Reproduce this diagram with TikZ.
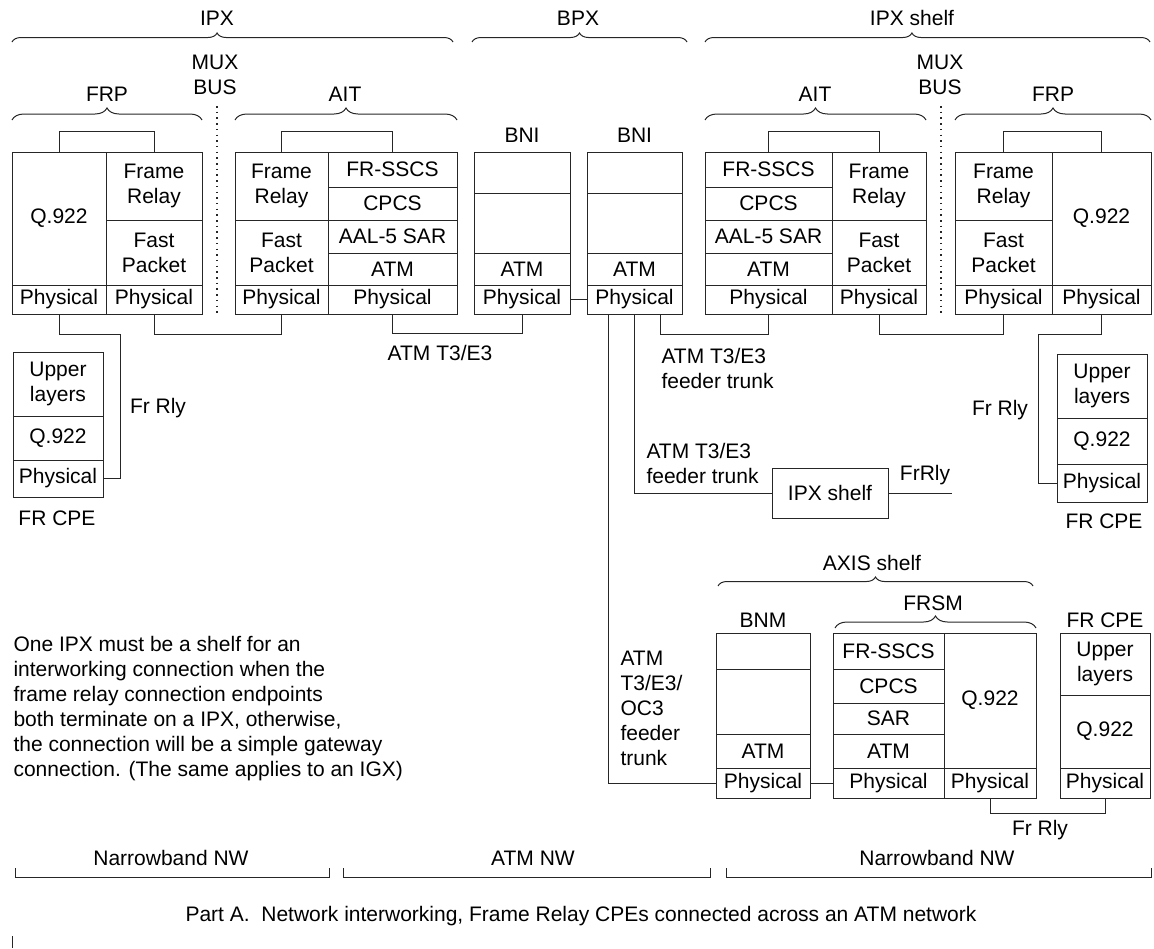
\documentclass[tikz,border=0pt]{standalone}
\usepackage{fontspec}
\setmainfont{Liberation Sans}
\usetikzlibrary{positioning,decorations.pathreplacing}

\begin{document}
\begin{tikzpicture}[
  x=1pt, y=-1pt,
  font=\fontsize{21}{25}\selectfont,
  line width=1pt, draw=black!85,
  cell/.style = {
    draw, rectangle, anchor=north west,
    inner sep=0pt, outer sep=0pt,
    align=center
  },
  lbl/.style = {inner sep=0pt, align=center},
  note/.style = {inner sep=0pt, align=left, anchor=west},
  bus/.style = {dash pattern=on 1.5pt off 4.2pt, line width=1.2pt},
  bigbrace/.style = {decorate, decoration={brace, amplitude=9pt, aspect=#1}},
  bigbrace/.default = 0.5,
  subbrace/.style = {decorate, decoration={brace, amplitude=12pt}}
]
\useasboundingbox (0,0) rectangle (1154,948);

% top braces
\draw[bigbrace=0.465] (12,42) -- (453,42);
\draw[bigbrace] (472,42) -- (687,42);
\draw[bigbrace=0.465] (705,42) -- (1150,42);
\node[lbl] (ipxlbl) at (217,18) {IPX};
\node[lbl] (bpxlbl) at (578,18) {BPX};
\node[lbl] (shelflbl) at (912,18) {IPX shelf};

% card braces
\draw[subbrace] (12,120) -- (202,120);
\draw[subbrace] (235,120) -- (457,120);
\draw[subbrace] (705,120) -- (926,120);
\draw[subbrace] (955,120) -- (1151,120);
\node[lbl] (frpLlbl) at (107,94) {FRP};
\node[lbl] (aitLlbl) at (345,94) {AIT};
\node[lbl] (aitRlbl) at (815,94) {AIT};
\node[lbl] (frpRlbl) at (1053,94) {FRP};

% mux bus
\node[lbl] (busL) at (215,75) {MUX\\BUS};
\node[lbl] (busR) at (940,75) {MUX\\BUS};
\draw[bus] (217,106) -- (217,315);
\draw[bus] (941,106) -- (941,315);

% IPX: FRP
\node[cell, minimum width=94, minimum height=133] (frpLQ) at (12,152) {Q.922};
\node[cell, minimum width=96, minimum height=68] (frpLFR) at (106,152) {Frame\\Relay};
\node[cell, minimum width=96, minimum height=65] (frpLFP) at (106,220) {Fast\\Packet};
\node[cell, minimum width=94, minimum height=29] (frpLPhA) at (12,285) {Physical};
\node[cell, minimum width=96, minimum height=29] (frpLPhB) at (106,285) {Physical};

% IPX: AIT
\node[cell, minimum width=93, minimum height=68] (aitLFR) at (235,152) {Frame\\Relay};
\node[cell, minimum width=93, minimum height=65] (aitLFP) at (235,220) {Fast\\Packet};
\node[cell, minimum width=129, minimum height=35] (aitLSSCS) at (328,152) {FR-SSCS};
\node[cell, minimum width=129, minimum height=33] (aitLCPCS) at (328,187) {CPCS};
\node[cell, minimum width=129, minimum height=33] (aitLSAR) at (328,220) {AAL-5 SAR};
\node[cell, minimum width=129, minimum height=32] (aitLATM) at (328,253) {ATM};
\node[cell, minimum width=93, minimum height=29] (aitLPhA) at (235,285) {Physical};
\node[cell, minimum width=129, minimum height=29] (aitLPhB) at (328,285) {Physical};

% BPX: BNI cards
\node[cell, minimum width=96, minimum height=41] (bniAtop) at (474,152) {};
\node[cell, minimum width=96, minimum height=60] (bniAmid) at (474,193) {};
\node[cell, minimum width=96, minimum height=32] (bniAATM) at (474,253) {ATM};
\node[cell, minimum width=96, minimum height=29] (bniAPh) at (474,285) {Physical};
\node[cell, minimum width=95, minimum height=41] (bniBtop) at (587,152) {};
\node[cell, minimum width=95, minimum height=60] (bniBmid) at (587,193) {};
\node[cell, minimum width=95, minimum height=32] (bniBATM) at (587,253) {ATM};
\node[cell, minimum width=95, minimum height=29] (bniBPh) at (587,285) {Physical};
\node[lbl, above=9pt of bniAtop] (bniAlbl) {BNI};
\node[lbl, above=9pt of bniBtop] (bniBlbl) {BNI};

% IPX shelf: AIT
\node[cell, minimum width=127, minimum height=35] (aitRSSCS) at (705,152) {FR-SSCS};
\node[cell, minimum width=127, minimum height=33] (aitRCPCS) at (705,187) {CPCS};
\node[cell, minimum width=127, minimum height=33] (aitRSAR) at (705,220) {AAL-5 SAR};
\node[cell, minimum width=127, minimum height=32] (aitRATM) at (705,253) {ATM};
\node[cell, minimum width=127, minimum height=29] (aitRPhA) at (705,285) {Physical};
\node[cell, minimum width=94, minimum height=68] (aitRFR) at (832,152) {Frame\\Relay};
\node[cell, minimum width=94, minimum height=65] (aitRFP) at (832,220) {Fast\\Packet};
\node[cell, minimum width=94, minimum height=29] (aitRPhB) at (832,285) {Physical};

% IPX shelf: FRP
\node[cell, minimum width=97, minimum height=68] (frpRFR) at (955,152) {Frame\\Relay};
\node[cell, minimum width=97, minimum height=65] (frpRFP) at (955,220) {Fast\\Packet};
\node[cell, minimum width=97, minimum height=29] (frpRPhA) at (955,285) {Physical};
\node[cell, minimum width=99, minimum height=133] (frpRQ) at (1052,152) {Q.922};
\node[cell, minimum width=99, minimum height=29] (frpRPhB) at (1052,285) {Physical};

% card internals
\draw (frpLQ.north) -- ++(0,-21) -| (frpLFR.north);
\draw (aitLFR.north) -- ++(0,-21) -| (aitLSSCS.north);
\draw (aitRSSCS.north) -- ++(0,-21) -| (aitRFR.north);
\draw (frpRFR.north) -- ++(0,-21) -| (frpRQ.north);

% FR CPEs
\node[cell, minimum width=90, minimum height=64] (cpeLUp) at (13,352) {Upper\\layers};
\node[cell, minimum width=90, minimum height=44] (cpeLQ) at (13,416) {Q.922};
\node[cell, minimum width=90, minimum height=37] (cpeLPh) at (13,460) {Physical};
\node[lbl] (cpeLlbl) at (57,518) {FR CPE};
\node[cell, minimum width=90, minimum height=64] (cpeRUp) at (1057,354) {Upper\\layers};
\node[cell, minimum width=90, minimum height=46] (cpeRQ) at (1057,418) {Q.922};
\node[cell, minimum width=90, minimum height=38] (cpeRPh) at (1057,464) {Physical};
\node[lbl] (cpeRlbl) at (1104,521) {FR CPE};

% IPX shelf feeder
\node[cell, minimum width=116, minimum height=50] (shelf) at (772,468) {IPX shelf};
\coordinate (frEnd) at (952,493);

% AXIS shelf
\draw[bigbrace] (718,586) -- (1033,586);
\node[lbl] (axislbl) at (872,563) {AXIS shelf};
\draw[subbrace] (835,628) -- (1036,628);
\node[lbl] (frsmlbl) at (933,603) {FRSM};
\node[cell, minimum width=94, minimum height=36] (bnmTop) at (716,633) {};
\node[cell, minimum width=94, minimum height=65] (bnmMid) at (716,669) {};
\node[cell, minimum width=94, minimum height=34] (bnmATM) at (716,734) {ATM};
\node[cell, minimum width=94, minimum height=30] (bnmPh) at (716,768) {Physical};
\node[lbl] (bnmlbl) at (763,620) {BNM};
\node[cell, minimum width=111, minimum height=36] (frsmSSCS) at (833,633) {FR-SSCS};
\node[cell, minimum width=111, minimum height=34] (frsmCPCS) at (833,669) {CPCS};
\node[cell, minimum width=111, minimum height=31] (frsmSAR) at (833,703) {SAR};
\node[cell, minimum width=111, minimum height=34] (frsmATM) at (833,734) {ATM};
\node[cell, minimum width=111, minimum height=30] (frsmPhA) at (833,768) {Physical};
\node[cell, minimum width=92, minimum height=135] (frsmQ) at (944,633) {Q.922};
\node[cell, minimum width=92, minimum height=30] (frsmPhB) at (944,768) {Physical};
\node[cell, minimum width=90, minimum height=62] (cpeBUp) at (1060,633) {Upper\\layers};
\node[cell, minimum width=90, minimum height=73] (cpeBQ) at (1060,695) {Q.922};
\node[cell, minimum width=90, minimum height=30] (cpeBPh) at (1060,768) {Physical};
\node[lbl] (cpeBlbl) at (1105,620) {FR CPE};

% links
\draw (frpLPhA.south) -- ++(0,20) -- ++(61,0) |- (cpeLPh.east);
\draw (frpLPhB.south) -- ++(0,20) -| (aitLPhA.south);
\draw (aitLPhB.south) -- ++(0,19) -| (bniAPh.south);
\draw (bniAPh.east) -- (bniBPh.west);
\draw ([xshift=26pt]bniBPh.south) -- ++(0,20) -| (aitRPhA.south);
\draw (bniBPh.south) |- (shelf.west);
\draw ([xshift=-26pt]bniBPh.south) |- (bnmPh.west);
\draw (aitRPhB.south) -- ++(0,20) -| (frpRPhA.south);
\draw (frpRPhB.south) -- ++(0,20) -- ++(-63,0) |- (cpeRPh.west);
\draw (shelf.east) -- (frEnd);
\draw (bnmPh.east) -- (frsmPhA.west);
\draw (frsmPhB.south) -- ++(0,15) -| (cpeBPh.south);

% link labels
\node[lbl] (frLlbl) at (158,408) {Fr Rly};
\node[lbl] (frRlbl) at (1000,410) {Fr Rly};
\node[lbl] (trunklbl) at (440,353) {ATM T3/E3};
\node[note] (feedAlbl) at (661,368) {ATM T3/E3\\feeder trunk};
\node[note] (feedBlbl) at (646,463) {ATM T3/E3\\feeder trunk};
\node[lbl] (frrlylbl) at (925,475) {FrRly};
\node[note] (feedClbl) at (620,708) {ATM\\T3/E3/\\OC3\\feeder\\trunk};
\node[lbl] (frBlbl) at (1040,830) {Fr Rly};

% remark
\node[note] (remark) at (13,709) {One IPX must be a shelf for an\\interworking connection when the\\frame relay connection endpoints\\both terminate on a IPX, otherwise,\\the connection will be a simple gateway\\connection. (The same applies to an IGX)};

% network spans
\draw (15,868) |- (329,877) -- (329,868);
\draw (343,868) |- (710,877) -- (710,868);
\draw (726,868) |- (1151,877) -- (1151,868);
\node[lbl] (nbLlbl) at (171,858) {Narrowband NW};
\node[lbl] (atmlbl) at (533,858) {ATM NW};
\node[lbl] (nbRlbl) at (937,858) {Narrowband NW};

% caption
\node[lbl] (caption) at (581,916) {Part A.\ \ Network interworking, Frame Relay CPEs connected across an ATM network};
\draw (12,936) -- (12,948);

\end{tikzpicture}
\end{document}
